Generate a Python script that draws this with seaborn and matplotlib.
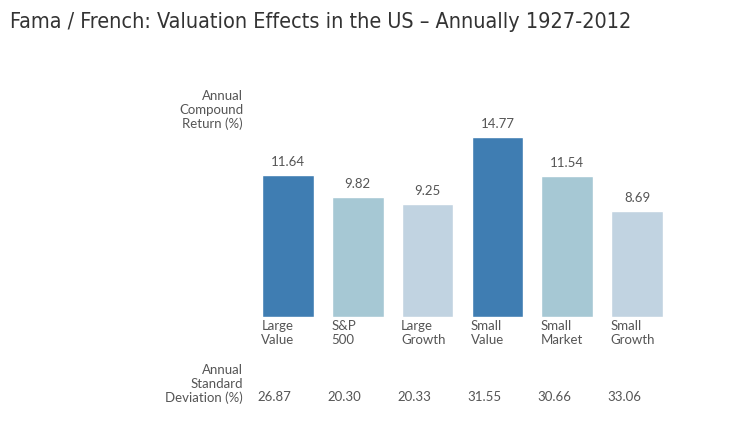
import matplotlib
matplotlib.use("Agg")
import matplotlib.pyplot as plt
import matplotlib.transforms as mtransforms
import pandas as pd
import seaborn as sns

# data
categories = ["Large\nValue", "S&P\n500", "Large\nGrowth", "Small\nValue", "Small\nMarket", "Small\nGrowth"]
returns = [11.64, 9.82, 9.25, 14.77, 11.54, 8.69]
std_devs = ["26.87", "20.30", "20.33", "31.55", "30.66", "33.06"]
bar_colors = ["#3f7db2", "#a6c8d4", "#c1d3e1", "#3f7db2", "#a6c8d4", "#c1d3e1"]

df = pd.DataFrame({"category": categories, "ret": returns})

sns.set_theme(style="white")
plt.rcParams["font.family"] = ["Lato", "DejaVu Sans"]

fig = plt.figure(figsize=(7.5, 4.23), dpi=100)
ax = fig.add_axes([0.3373, 0.2506, 0.5587, 0.461])

sns.barplot(data=df, x="category", y="ret", hue="category",
            palette=bar_colors, width=0.74, legend=False, ax=ax,
            saturation=1)

ax.set_xlim(-0.5, 5.5)
ax.set_ylim(0, 16)
ax.set_xlabel("")
ax.set_ylabel("")
ax.set_xticks([])
ax.set_yticks([])
sns.despine(ax=ax, left=True, bottom=True)

label_color = "#555555"
fs = 9.5
ls = 1.15

# value labels over bars
for i, v in enumerate(returns):
    ax.annotate(f"{v:.2f}", (i, v), xytext=(0, 5), textcoords="offset points",
                ha="center", va="bottom", fontsize=fs, color=label_color)

# category names and std devs under the bars
trans = mtransforms.blended_transform_factory(ax.transData, fig.transFigure)
for i, (cat, sd) in enumerate(zip(categories, std_devs)):
    ax.text(i - 0.38, 1 - 320 / 423, cat, transform=trans, ha="left", va="top",
            fontsize=fs, color=label_color, linespacing=ls)
    ax.text(i - 0.43, 1 - 397 / 423, sd, transform=trans, ha="left", va="center",
            fontsize=fs, color=label_color)

fig.text(243 / 750, 1 - 90 / 423, "Annual\nCompound\nReturn (%)", ha="right", va="top",
         fontsize=fs, color=label_color, linespacing=ls)
fig.text(243 / 750, 1 - 404 / 423, "Annual\nStandard\nDeviation (%)", ha="right", va="bottom",
         fontsize=fs, color=label_color, linespacing=ls)

fig.text(10 / 750, 1 - 22 / 423, "Fama / French: Valuation Effects in the US – Annually 1927-2012",
         ha="left", va="center", fontsize=15.5, color="#333333",
         family=["DejaVu Sans"], fontstretch="condensed")

fig.savefig("out.png", dpi=100)
